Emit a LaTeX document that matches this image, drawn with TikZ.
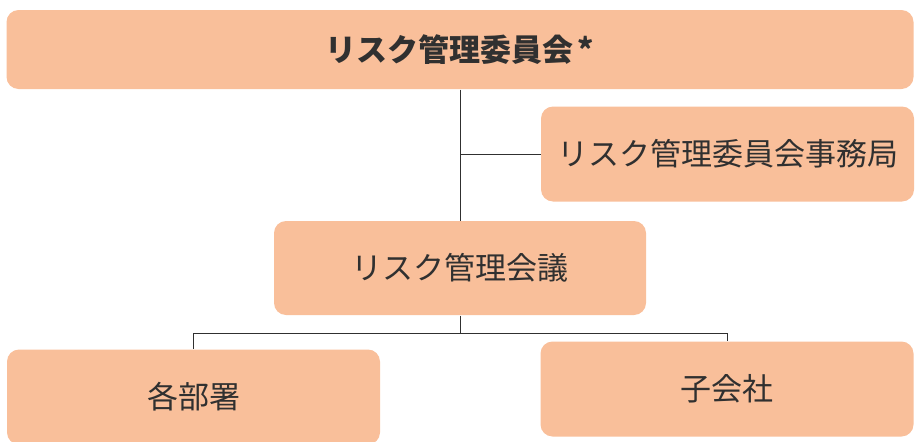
\documentclass[tikz,border=0pt]{standalone}
\usepackage{fontspec}
\setmainfont{Noto Sans CJK JP}
\definecolor{boxfill}{HTML}{F9BF9A}
\definecolor{linegray}{HTML}{303030}

\begin{document}
\begin{tikzpicture}[x=1pt,y=-1pt,line width=1pt,
  unit box/.style={rectangle,rounded corners=12pt,fill=boxfill,inner sep=0pt,
    text=linegray,font=\fontsize{31}{34}\selectfont,minimum width=373pt,minimum height=95pt}]

  \useasboundingbox (0,0) rectangle (922,442);

  \node[unit box,minimum width=907pt,minimum height=79pt,font=\fontsize{31}{34}\selectfont\bfseries] (committee) at (460,49.5) {\raisebox{2pt}{リスク管理委員会\kern4pt*}};
  \node[unit box] (office) at (727.5,154) {リスク管理委員会事務局};
  \node[unit box,minimum width=372pt,minimum height=94pt] (meeting) at (460,268) {リスク管理会議};
  \node[unit box] (depts) at (193.5,397) {各部署};
  \node[unit box] (subs) at (727,389) {子会社};
  \coordinate (split) at (460,333);

  \path[draw=linegray]
    (committee.south) edge (meeting.north)
    (office.west) edge (office.west -| committee.south)
    (meeting.south) edge (split);
  \draw[linegray] (split) -| (depts.north);
  \draw[linegray] (split) -| (subs.north);

\end{tikzpicture}
\end{document}
